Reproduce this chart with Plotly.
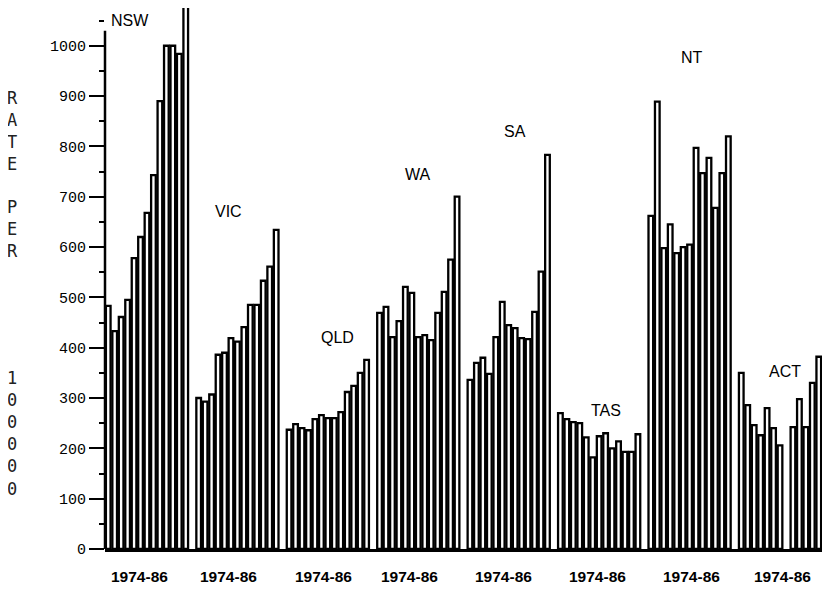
import plotly.graph_objects as go

states = ["NSW", "VIC", "QLD", "WA", "SA", "TAS", "NT", "ACT"]
period_label = "1974-86"
n_years = 13

nsw = [483, 433, 461, 495, 578, 620, 668, 743, 890, 1000, 1000, 984, 1100]
vic = [300, 293, 307, 386, 390, 419, 412, 441, 485, 485, 533, 561, 634]
qld = [237, 248, 240, 236, 258, 266, 260, 260, 272, 312, 324, 350, 376]
wa = [469, 481, 421, 453, 521, 509, 421, 425, 415, 469, 511, 575, 700]
sa = [336, 370, 380, 348, 421, 491, 445, 439, 419, 417, 471, 551, 783]
tas = [270, 258, 252, 250, 222, 182, 224, 230, 200, 214, 193, 193, 228]
nt = [662, 889, 598, 645, 588, 600, 605, 797, 747, 777, 678, 747, 820]
act = [350, 286, 246, 226, 280, 240, 206, None, 242, 298, 242, 330, 382]

series = [nsw, vic, qld, wa, sa, tas, nt, act]

y_ticks = list(range(0, 1001, 100))

# layout helpers (label placement only)
group_pitch = n_years + 1
label_offsets = [4.9, 4.6, 5.3, 4.7, 5.2, 5.8, 6.3, 6.4]
state_label_pos = [(3.3, 1050), (18.6, 670), (35.5, 421), (47.9, 744),
                   (62.9, 829), (77.1, 276), (90.3, 976), (104.7, 352)]

xs, ys = [], []
for g, vals in enumerate(series):
    for i, v in enumerate(vals):
        xs.append(g * group_pitch + i)
        ys.append(v)

fig = go.Figure()
fig.add_trace(go.Bar(
    x=xs, y=ys, width=0.72,
    marker=dict(color="white", line=dict(color="black", width=2.3)),
    showlegend=False, hoverinfo="x+y",
))

ann = []
for g, s in enumerate(states):
    lx, ly = state_label_pos[g]
    ann.append(dict(x=lx, y=ly, xref="x", yref="y", text=s, showarrow=False,
                    xanchor="center", yanchor="middle",
                    font=dict(family="Liberation Sans, Arial, sans-serif", size=16,
                              color="black")))
    ann.append(dict(x=g * group_pitch + label_offsets[g], y=0, xref="x", yref="paper",
                    xanchor="center", yanchor="top", yshift=-17,
                    text="<b>" + period_label + "</b>", showarrow=False,
                    font=dict(family="Liberation Sans, Arial, sans-serif", size=15.5,
                              color="black")))

title_font = dict(family="DejaVu Sans Mono, monospace", size=17, color="#222")
for word, py in [("RATE", 0.772), ("PER", 0.591), ("100000", 0.2126)]:
    ann.append(dict(x=0, y=py, xref="paper", yref="paper", xshift=-93,
                    xanchor="center", yanchor="middle",
                    text="<br>".join(word), showarrow=False, align="center",
                    font=title_font))

fig.update_layout(
    width=814, height=577,
    margin=dict(l=97, r=0, t=0, b=36),
    paper_bgcolor="white", plot_bgcolor="white",
    bargap=0.1,
    annotations=ann,
    xaxis=dict(range=[-0.5, 110.5], showgrid=False, zeroline=False,
               showticklabels=False, ticks="", showline=True,
               linecolor="black", linewidth=3, fixedrange=True),
    yaxis=dict(range=[0, 1075], showgrid=False, zeroline=False,
               tickvals=y_ticks, ticktext=[str(v) for v in y_ticks],
               ticks="outside", ticklen=15, tickwidth=1.5, tickcolor="black",
               minor=dict(dtick=50, ticks="outside", ticklen=5, tickwidth=1.5,
                          tickcolor="black"),
               tickfont=dict(family="Liberation Mono, DejaVu Sans Mono, monospace",
                             size=15, color="black"),
               showline=False, fixedrange=True),
    shapes=[dict(type="line", xref="paper", yref="y", x0=0, x1=0, y0=0, y1=1030,
                 line=dict(color="black", width=2.5))],
)

fig.write_html("out.html")
